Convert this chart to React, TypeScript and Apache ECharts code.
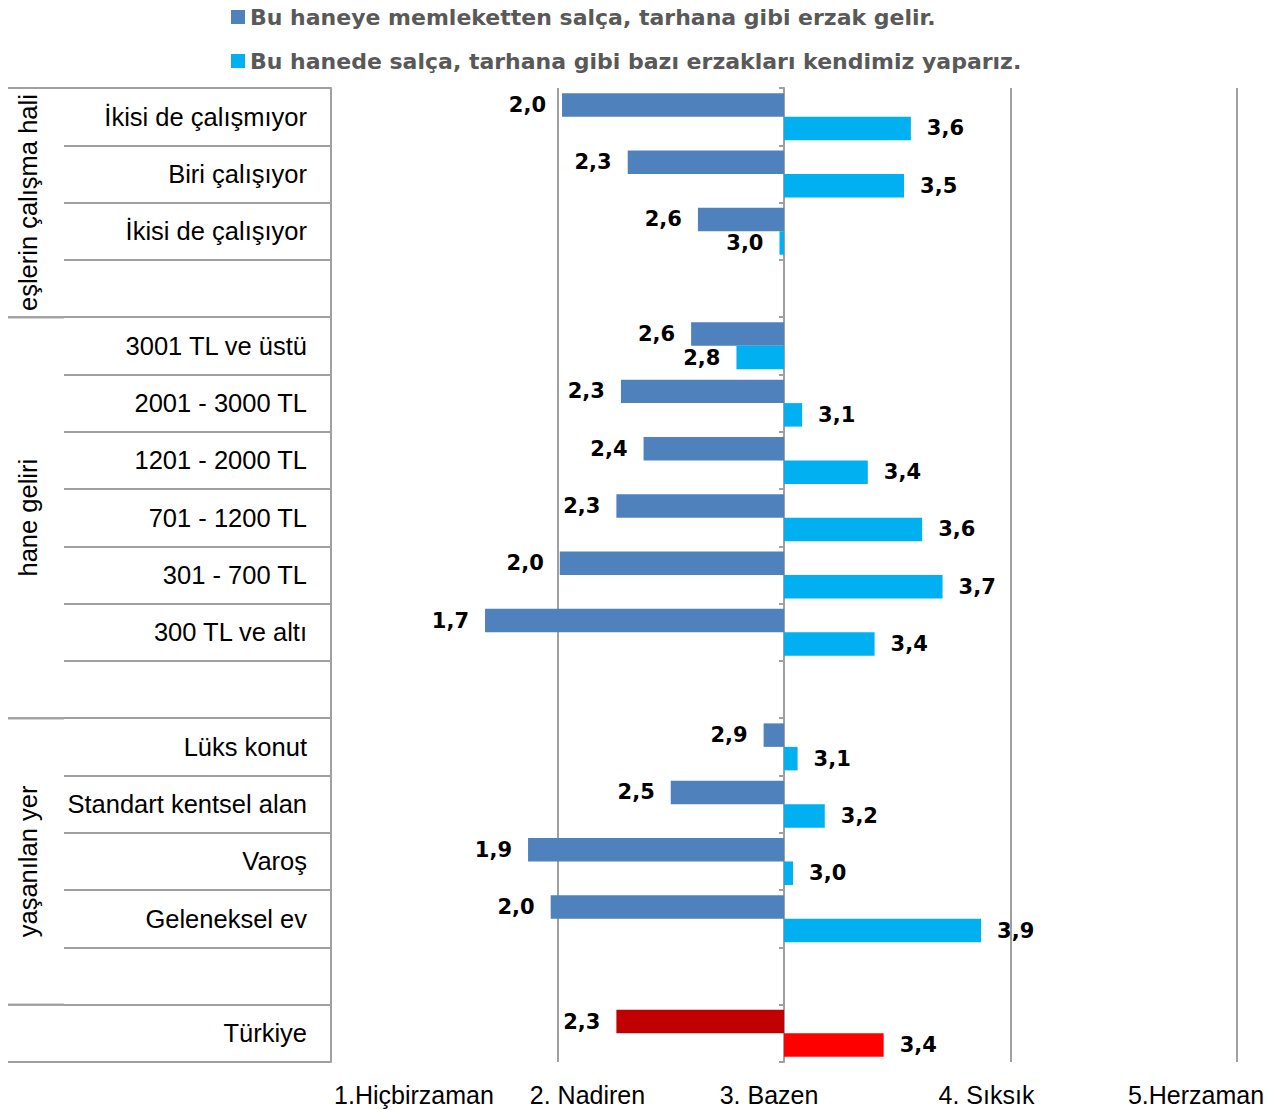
import React, { useEffect, useRef } from "react";
import * as echarts from "echarts";

const categories = [
  "İkisi de çalışmıyor",
  "Biri çalışıyor",
  "İkisi de çalışıyor",
  "",
  "3001 TL ve üstü",
  "2001 - 3000 TL",
  "1201 - 2000 TL",
  "701 - 1200 TL",
  "301 - 700 TL",
  "300 TL ve altı",
  " ",
  "Lüks konut",
  "Standart kentsel alan",
  "Varoş",
  "Geleneksel ev",
  "  ",
  "Türkiye",
];

const seriesNames = [
  "Bu haneye memleketten salça, tarhana gibi erzak gelir.",
  "Bu hanede salça, tarhana gibi bazı erzakları kendimiz yaparız.",
];

const memleketValues: (number | null)[] = [
  2.02, 2.31, 2.62, null, 2.59, 2.28, 2.38, 2.26, 2.01, 1.68, null, 2.91, 2.5, 1.87, 1.97, null, 2.26,
];
const kendimizValues: (number | null)[] = [
  3.56, 3.53, 2.98, null, 2.79, 3.08, 3.37, 3.61, 3.7, 3.4, null, 3.06, 3.18, 3.04, 3.87, null, 3.44,
];

const scaleLabels = ["1.Hiçbirzaman", "2. Nadiren", "3. Bazen", "4. Sıksık", "5.Herzaman"];
const scaleValues = [1, 2, 3, 4, 5];

const groups = [
  { label: "eşlerin çalışma hali", from: 0, to: 4 },
  { label: "hane geliri", from: 4, to: 11 },
  { label: "yaşanılan yer", from: 11, to: 16 },
  { label: "", from: 16, to: 17 },
];

const BASE = 3;
const colors = ["#4F81BD", "#00B0F0"];
const totalColors = ["#C00000", "#FF0000"];

export default function App() {
  const ref = useRef<HTMLDivElement>(null);
  useEffect(() => {
    if (!ref.current) return;
    const chart = echarts.init(ref.current, null, { renderer: "svg" });
    const W = 1282;
    const gridLeft = 331;
    const gridRight = 45;
    const gridTop = 88;
    const gridBottom = 48;
    const gridH = 1110 - gridTop - gridBottom;
    const gridW = W - gridLeft - gridRight;
    const rowH = gridH / categories.length;
    const font = "'Liberation Sans', Arial, sans-serif";
    const boldFont = "'DejaVu Sans', sans-serif";
    const gridColor = "#A0A0A0";
    const catFontSize = 25.5;

    const mkData = (vals: (number | null)[], si: number) =>
      vals.map((v, i) => {
        if (v === null) return "-";
        const item: any = {
          value: v - BASE,
          label: { position: v < BASE ? "left" : "right" },
        };
        if (categories[i] === "Türkiye") item.itemStyle = { color: totalColors[si] };
        return item;
      });

    const fmt = (i: number, arr: (number | null)[]) => {
      const v = arr[i];
      return v === null ? "" : v.toFixed(1).replace(".", ",");
    };

    // x-axis label shifts (center offset from tick, px)
    const shifts = [83, 30, -15, -24, -41];
    const rich: any = {};
    scaleLabels.forEach((_, i) => {
      const d = shifts[i];
      rich["s" + i] = {
        fontSize: 25,
        fontFamily: font,
        color: "#000",
        padding: d >= 0 ? [0, 0, 0, 2 * d] : [0, -2 * d, 0, 0],
      };
    });

    const graphic: any[] = [];
    groups.forEach((g) => {
      [g.from, g.to].forEach((b) => {
        graphic.push({
          type: "line",
          shape: { x1: 8, y1: gridTop + b * rowH, x2: 64, y2: gridTop + b * rowH },
          style: { stroke: gridColor, lineWidth: 2 },
          silent: true,
        });
      });
      if (g.label) {
        graphic.push({
          type: "text",
          x: 28,
          y: gridTop + ((g.from + g.to) / 2) * rowH,
          rotation: Math.PI / 2,
          style: {
            text: g.label,
            fontSize: catFontSize,
            fontFamily: font,
            fill: "#000",
            align: "center",
            verticalAlign: "middle",
          },
        });
      }
    });

    const labelStyle = {
      show: true,
      distance: 16,
      fontFamily: boldFont,
      fontWeight: "bold",
      fontSize: 21,
      color: "#000",
    };

    chart.setOption({
      animation: false,
      textStyle: { fontFamily: font },
      legend: {
        orient: "vertical",
        left: 226,
        top: 1,
        itemWidth: 14,
        itemHeight: 14,
        itemGap: 22,
        icon: "rect",
        data: seriesNames,
        textStyle: {
          fontFamily: boldFont,
          fontWeight: "bold",
          fontSize: 22,
          color: "#595959",
        },
      },
      grid: { left: gridLeft, right: gridRight, top: gridTop, bottom: gridBottom, containLabel: false },
      xAxis: {
        type: "value",
        min: scaleValues[0] - BASE,
        max: scaleValues[scaleValues.length - 1] - BASE,
        interval: 1,
        axisLine: { show: false },
        axisTick: { show: false },
        splitLine: { show: true, lineStyle: { color: gridColor, width: 2 } },
        axisLabel: {
          margin: 20,
          showMinLabel: true,
          showMaxLabel: true,
          formatter: (val: number) => {
            const idx = scaleValues.indexOf(Math.round(val + BASE));
            return idx >= 0 ? `{s${idx}|${scaleLabels[idx]}}` : "";
          },
          rich,
        },
      },
      yAxis: [
        {
          type: "category",
          data: categories,
          inverse: true,
          position: "left",
          axisLine: { show: true, onZero: false, lineStyle: { color: gridColor, width: 2 } },
          axisTick: { show: true, length: gridLeft - 64, lineStyle: { color: gridColor, width: 2 } },
          axisLabel: { margin: 24, fontSize: catFontSize, fontFamily: font, color: "#000" },
        },
        {
          type: "category",
          data: categories,
          inverse: true,
          position: "left",
          offset: -gridW / 2,
          axisLine: { show: true, onZero: false, lineStyle: { color: gridColor, width: 2 } },
          axisTick: { show: true, length: 5, lineStyle: { color: gridColor, width: 2 } },
          axisLabel: { show: false },
        },
      ],
      series: [
        {
          name: seriesNames[0],
          type: "bar",
          yAxisIndex: 0,
          barGap: "0%",
          barCategoryGap: "18%",
          itemStyle: { color: colors[0] },
          label: { ...labelStyle, formatter: (p: any) => fmt(p.dataIndex, memleketValues) },
          data: mkData(memleketValues, 0),
        },
        {
          name: seriesNames[1],
          type: "bar",
          yAxisIndex: 0,
          barGap: "0%",
          barCategoryGap: "18%",
          itemStyle: { color: colors[1] },
          label: { ...labelStyle, formatter: (p: any) => fmt(p.dataIndex, kendimizValues) },
          data: mkData(kendimizValues, 1),
        },
      ],
      graphic,
    });
    return () => chart.dispose();
  }, []);
  return (
    <div
      ref={ref}
      style={{ position: "fixed", left: 0, top: 0, width: 1282, height: 1110, background: "#fff" }}
    />
  );
}
